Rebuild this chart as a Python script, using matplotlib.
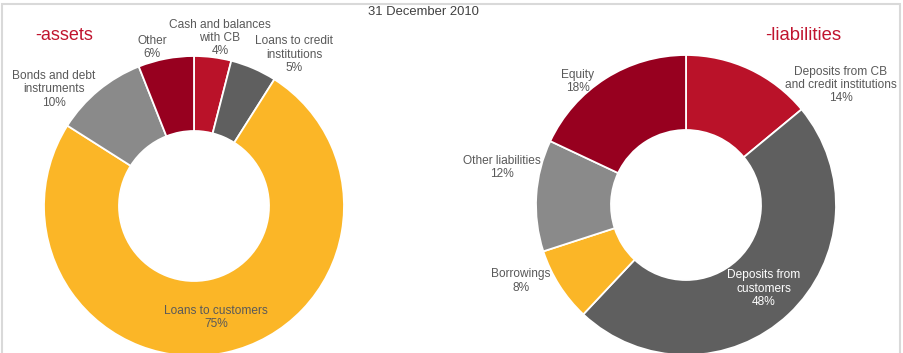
import matplotlib
matplotlib.use("Agg")
import matplotlib.pyplot as plt
from matplotlib.patches import Rectangle

plt.rcParams['font.family'] = ['Liberation Sans', 'DejaVu Sans']

# ---- data ----
title = "31 December 2010"
asset_labels = ["Cash and balances\nwith CB", "Loans to credit\ninstitutions",
                "Loans to customers", "Bonds and debt\ninstruments", "Other"]
asset_values = [4, 5, 75, 10, 6]
liab_labels = ["Deposits from CB\nand credit institutions", "Deposits from\ncustomers",
               "Borrowings", "Other liabilities", "Equity"]
liab_values = [14, 48, 8, 12, 18]

# ---- style ----
RED = "#BA1229"
DARKRED = "#97001F"
DARKGRAY = "#5F5F5F"
YELLOW = "#FBB627"
GRAY = "#8A8A8A"
asset_colors = [RED, DARKGRAY, YELLOW, GRAY, DARKRED]
liab_colors = [RED, DARKGRAY, YELLOW, GRAY, DARKRED]
TXT = "#595959"

W, H = 904, 353
fig = plt.figure(figsize=(W / 100, H / 100), dpi=100)
ax = fig.add_axes([0, 0, 1, 1])

R, r = 150, 75
left_c = (194, H - 206)
right_c = (686, H - 205)

wp = dict(width=R - r, edgecolor="white", linewidth=1.3)
ax.pie(asset_values, colors=asset_colors, startangle=90, counterclock=False,
       radius=R, center=left_c, wedgeprops=wp, frame=True)
ax.pie(liab_values, colors=liab_colors, startangle=90, counterclock=False,
       radius=R, center=right_c, wedgeprops=wp, frame=True)

ax.set_xlim(0, W)
ax.set_ylim(0, H)
ax.set_aspect('auto')
ax.axis('off')

# label positions (block centre, pixels from top-left), layout only
asset_pos = [(220, 38), (294, 54.5), (216, 317.5), (54, 89.5), (152, 47.5)]
liab_pos = [(841, 85), (764, 288.5), (521, 281), (502, 167.5), (578, 81.5)]
liab_colors_txt = [TXT, "white", TXT, TXT, TXT]

FS = 8.6
STEP = 13.3


def block(x, yc, text, color):
    lines = text.split("\n")
    n = len(lines)
    for i, ln in enumerate(lines):
        y = yc + (i - (n - 1) / 2) * STEP
        ax.text(x, H - y, ln, ha="center", va="center", fontsize=FS, color=color)


for lab, v, (x, y) in zip(asset_labels, asset_values, asset_pos):
    block(x, y, f"{lab}\n{v}%", TXT)
for lab, v, (x, y), c in zip(liab_labels, liab_values, liab_pos, liab_colors_txt):
    block(x, y, f"{lab}\n{v}%", c)

ax.text(423, H - 12, title, ha="center", va="center", fontsize=9.4, color="#404040")
ax.text(35, H - 35, "-assets", ha="left", va="center", fontsize=13, color="#C0142E")
ax.text(765, H - 35, "-liabilities", ha="left", va="center", fontsize=13.3, color="#C0142E")

ax.add_patch(Rectangle((2, -10), 898, H - 2 + 10 - 2, fill=False,
                       edgecolor="#D9D9D9", linewidth=1.5, clip_on=False))

fig.savefig("out.png", dpi=100)
